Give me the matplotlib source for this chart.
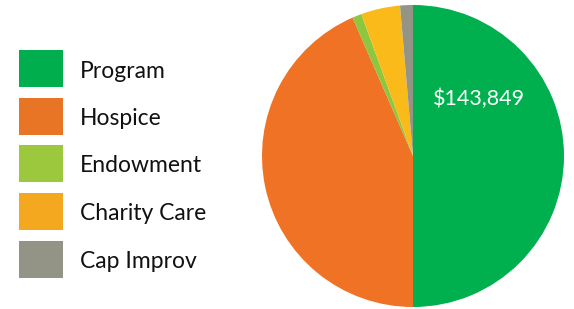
import matplotlib.pyplot as plt
from matplotlib.patches import Rectangle

plt.rcParams['font.family'] = ['Lato', 'DejaVu Sans']

CATEGORIES = ["Program", "Hospice", "Endowment", "Charity Care", "Cap Improv"]
AMOUNTS = [143849, 125000, 2850, 12050, 3940]
PIE_COLORS = ["#00B04F", "#F07224", "#8DC63F", "#F9BA1A", "#939386"]
LEGEND_COLORS = ["#00AE4D", "#E87425", "#9BC83C", "#F4A81F", "#939386"]
LABEL = "$143,849"

W, H = 574, 309
fig = plt.figure(figsize=(W / 100, H / 100), dpi=100)

# pie axes: centre ~(413,156), radius ~151 px
ax = fig.add_axes([262 / W, (H - 307) / H, 302 / W, 302 / H])
ax.pie(AMOUNTS, colors=PIE_COLORS, startangle=90, counterclock=False,
       radius=1.0, wedgeprops=dict(linewidth=0))
ax.set_xlim(-1, 1)
ax.set_ylim(-1, 1)
ax.set_aspect("equal")
ax.axis("off")
ax.text(0.44, 0.38, LABEL, color="white", fontsize=15.5, ha="center", va="center")

# legend
sq_top = [50, 97.5, 145, 193, 241]
for top, name, col in zip(sq_top, CATEGORIES, LEGEND_COLORS):
    fig.patches.append(Rectangle((19 / W, (H - top - 37) / H), 44 / W, 37 / H,
                                 transform=fig.transFigure, facecolor=col,
                                 edgecolor="none"))
    fig.text(80 / W, (H - top - 27.5) / H, name, fontsize=16.5, color="#111111",
             ha="left", va="baseline")

fig.savefig("out.png", dpi=100)
